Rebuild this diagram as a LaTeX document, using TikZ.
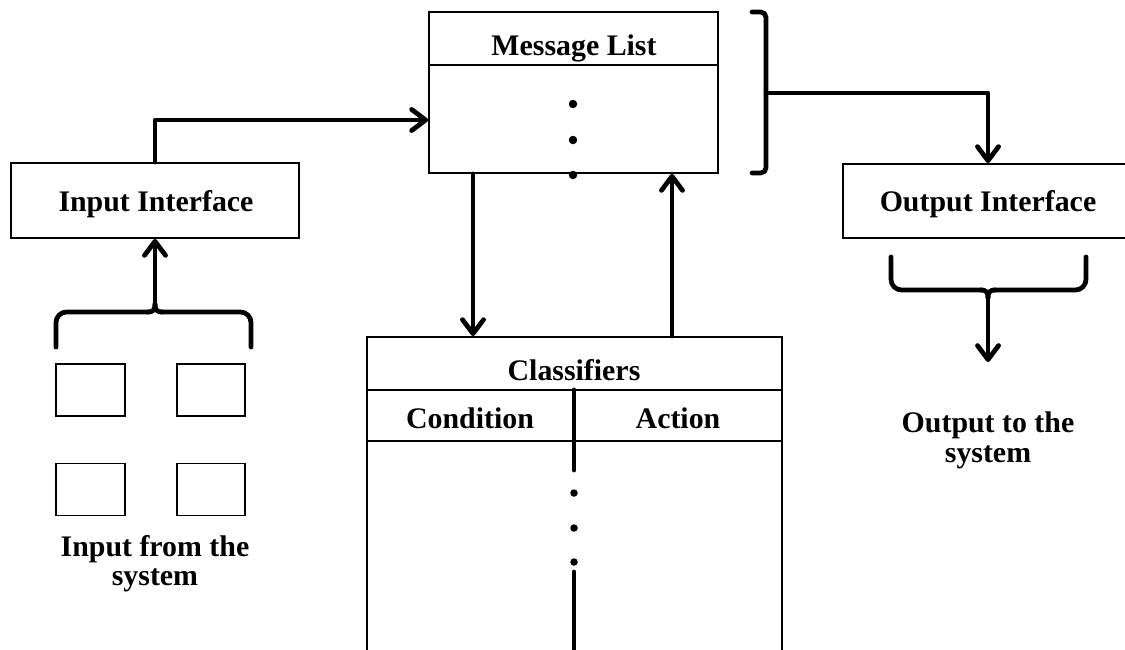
\documentclass[tikz,border=0pt]{standalone}
\usepackage{fontspec}
\setmainfont{Liberation Serif}
\usetikzlibrary{arrows.meta,calc}
\begin{document}
\begin{tikzpicture}[x=0.02cm,y=-0.02cm,
  box/.style={draw,line width=1.1pt,rectangle,inner sep=0pt},
  lbl/.style={font=\fontsize{17}{17}\selectfont\bfseries,anchor=base,inner sep=0pt},
  heavy/.style={line width=2.7pt,line cap=round,line join=round},
  arr/.style={heavy,-{Straight Barb[length=8pt,width=12pt,line cap=round,line join=round]}},
  dotmark/.style={fill,circle,inner sep=0pt,minimum size=0.17cm}]
\clip (0,0) rectangle (1125,649);
\fill[white] (0,0) rectangle (1125,649);

% boxes
\node[box,minimum width=5.78cm,minimum height=3.22cm] (msg) at (573.5,92.5) {};
\draw[line width=1.1pt] (429,65) -- (718,65);
\node[box,minimum width=5.76cm,minimum height=1.5cm] (inp) at (155,200.5) {};
\node[box,minimum width=5.8cm,minimum height=1.48cm] (out) at (988,201) {};
\node[box,minimum width=8.3cm,minimum height=7.26cm] (cls) at (574.5,518.5) {};
\draw[line width=1.1pt] (367,390) -- (782,390);
\draw[line width=1.1pt] (367,441) -- (782,441);

% small input boxes
\node[box,minimum width=1.38cm,minimum height=1.04cm] (s1) at (90.5,390) {};
\node[box,minimum width=1.36cm,minimum height=1.04cm] (s2) at (211,390) {};
\node[box,minimum width=1.38cm,minimum height=1.04cm] (s3) at (90.5,489.5) {};
\node[box,minimum width=1.36cm,minimum height=1.04cm] (s4) at (211,489.5) {};

% labels
\node[lbl] (tMsg) at (574,55) {Message List};
\node[lbl] (tInp) at (156,211) {Input Interface};
\node[lbl] (tOut) at (988,211) {Output Interface};
\node[lbl] (tCls) at (574,380) {Classifiers};
\node[lbl] (tCond) at (470,428) {Condition};
\node[lbl] (tAct) at (678,428) {Action};
\node[lbl] (tIn1) at (155,556) {Input from the};
\node[lbl] (tIn2) at (155,585) {system};
\node[lbl] (tOut1) at (988,432) {Output to the};
\node[lbl] (tOut2) at (988,462) {system};

% dots
\node[dotmark] (m1) at (573,104) {};
\node[dotmark] (m2) at (573,140) {};
\node[dotmark] (m3) at (573,175) {};
\node[dotmark,minimum size=0.15cm] (c1) at (574,493) {};
\node[dotmark,minimum size=0.15cm] (c2) at (574,528) {};
\node[dotmark,minimum size=0.15cm] (c3) at (574,562) {};

% classifier divider
\draw[heavy] (574,390) -- (574,470);
\draw[heavy] (574,572) -- (574,670);

% top-right bracket
\draw[heavy,rounded corners=3pt] (752,12) -- (766,12) -- (766,173) -- (752,173);
\coordinate (brk) at (766,93);
\draw[arr] (brk) -| (out.north);

% input -> message list
\draw[arr] (inp.north) |- ([yshift=-0.55cm]msg.west);

% message list <-> classifiers
\draw[arr] ($(msg.south)+(-100.5,0)$) -- ($(cls.north)+(-101.5,0)$);
\draw[arr] ($(cls.north)+(97.5,0)$) -- ($(msg.south)+(98.5,0)$);

% input brace
\coordinate (inCusp) at (155,304);
\draw[heavy,rounded corners=6pt] (56,347) -- (56,312) -- (149,312);
\draw[heavy] (148,312) .. controls (153,312) and (155,310) .. (inCusp);
\draw[heavy,rounded corners=6pt] (251,347) -- (251,312) -- (161,312);
\draw[heavy] (162,312) .. controls (157,312) and (155,310) .. (inCusp);
\draw[arr] (inCusp) -- (inp.south);

% output brace
\coordinate (outCusp) at (988,298);
\coordinate (outEnd) at (988,362);
\draw[heavy,rounded corners=6pt] (891,257) -- (891,290) -- (982,290);
\draw[heavy] (981,290) .. controls (986,290) and (988,292) .. (outCusp);
\draw[heavy,rounded corners=6pt] (1086,257) -- (1086,290) -- (994,290);
\draw[heavy] (995,290) .. controls (990,290) and (988,292) .. (outCusp);
\draw[arr] (outCusp) -- (outEnd);
\end{tikzpicture}
\end{document}
